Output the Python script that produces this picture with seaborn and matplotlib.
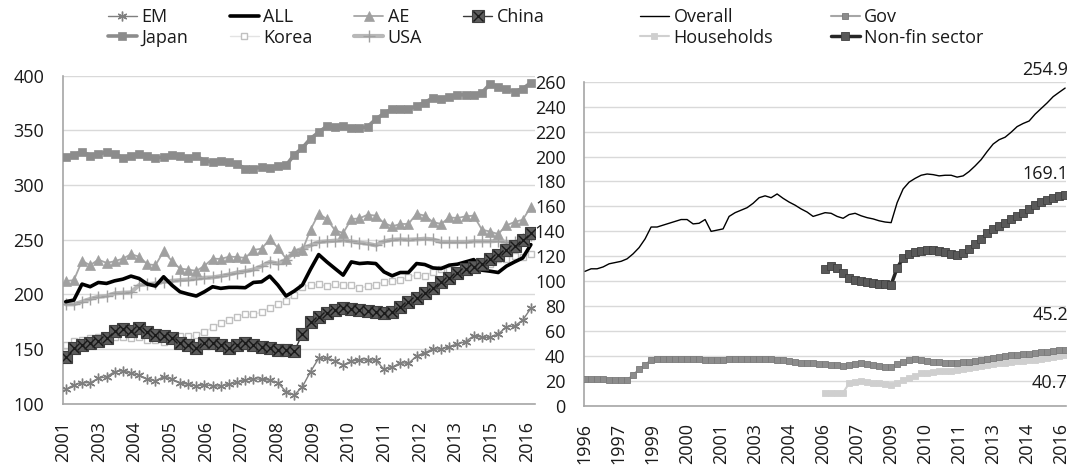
import numpy as np
import matplotlib
matplotlib.use("Agg")
import matplotlib.pyplot as plt
import seaborn as sns
from matplotlib.lines import Line2D
from matplotlib.legend_handler import HandlerTuple

# ---- left panel: quarterly, 2001-2016 ----
left_labels = ['2001', '2003', '2004', '2005', '2006', '2007', '2008', '2009',
               '2010', '2011', '2012', '2013', '2015', '2016']

em = [113.1, 117.1, 119.2, 119.2, 123.2, 124.7, 129.3, 130.2, 127.7, 126.2,
      122.3, 121.0, 124.7, 122.3, 119.2, 117.7, 116.2, 117.4, 116.2, 116.2,
      117.7, 119.5, 121.6, 122.9, 122.3, 121.6, 119.2, 111.0, 107.9, 115.5,
      129.3, 141.5, 141.5, 139.3, 135.4, 139.0, 139.9, 139.9, 139.9, 131.4,
      133.2, 137.5, 136.9, 143.6, 146.6, 150.0, 150.0, 152.1, 154.6, 156.7,
      162.2, 160.7, 160.7, 163.7, 170.4, 171.0, 176.5, 187.2]

all_ = [193.3, 194.8, 209.4, 207.0, 210.9, 210.0, 212.4, 213.9, 216.7, 214.5,
        209.4, 207.6, 216.1, 208.5, 202.4, 200.3, 198.5, 202.4, 207.0, 205.5,
        206.4, 206.4, 206.1, 210.9, 211.5, 216.7, 208.5, 198.5, 203.0, 208.5,
        223.0, 236.4, 229.7, 223.6, 217.6, 229.7, 228.2, 228.8, 228.2, 220.6,
        217.0, 220.0, 220.0, 228.2, 227.3, 224.2, 223.6, 226.7, 227.6, 229.7,
        231.8, 222.1, 221.2, 220.0, 225.8, 229.7, 233.3, 245.5]

ae = [212.1, 213.0, 230.6, 226.7, 231.8, 228.8, 230.3, 232.7, 236.7, 234.5,
      227.6, 226.7, 239.4, 230.6, 223.6, 222.7, 221.5, 226.1, 232.7, 232.4,
      234.5, 234.2, 233.3, 240.6, 241.8, 250.3, 242.7, 232.7, 239.4, 240.3,
      259.2, 273.8, 268.9, 258.6, 256.1, 268.9, 269.5, 272.9, 272.0, 265.3,
      262.2, 264.4, 264.4, 273.8, 272.0, 266.2, 264.4, 270.4, 269.8, 271.4,
      272.0, 259.2, 257.4, 255.2, 263.1, 266.2, 268.3, 279.9]

china = [142.4, 150.9, 153.9, 155.5, 157.0, 160.0, 166.7, 168.2, 166.7, 169.1,
         165.5, 163.0, 161.5, 160.0, 155.5, 153.9, 150.9, 155.5, 155.5, 153.3,
         150.9, 153.9, 155.5, 153.3, 151.8, 150.9, 149.4, 148.8, 147.9, 163.6,
         174.5, 179.7, 183.3, 185.8, 187.3, 186.7, 185.8, 185.2, 184.2, 183.3,
         184.2, 188.8, 192.7, 196.4, 200.9, 206.1, 211.5, 215.2, 219.1, 223.0,
         225.2, 228.2, 232.1, 236.4, 240.3, 244.2, 249.4, 256.4]

japan = [325.8, 327.6, 330.4, 327.0, 328.0, 330.4, 328.8, 324.6, 327.0, 328.0,
         327.0, 324.6, 325.8, 327.6, 326.7, 324.6, 326.4, 322.4, 320.9, 321.8,
         321.2, 319.1, 315.1, 315.1, 316.4, 315.8, 317.0, 317.9, 327.6, 334.0,
         342.5, 348.3, 353.8, 352.9, 354.1, 351.9, 351.9, 353.5, 360.2, 365.6,
         369.6, 369.3, 369.3, 372.3, 375.4, 379.9, 378.7, 380.8, 382.7, 382.4,
         382.7, 384.5, 392.4, 390.0, 387.5, 385.4, 388.1, 393.6]

korea = [153.9, 157.0, 158.5, 160.0, 160.6, 160.6, 160.6, 160.6, 160.0, 160.6,
         158.5, 158.5, 156.4, 158.5, 161.5, 161.5, 162.4, 165.5, 170.0, 173.6,
         176.7, 179.7, 181.8, 181.8, 183.6, 187.9, 191.5, 193.9, 199.4, 207.0,
         208.5, 209.1, 207.6, 209.1, 208.5, 208.5, 205.5, 207.6, 208.5, 211.5,
         212.1, 213.0, 216.1, 217.6, 217.0, 220.6, 223.6, 222.7, 220.6, 223.6,
         225.2, 226.7, 228.2, 232.7, 232.7, 235.2, 234.2, 237.3]

usa = [190.9, 190.9, 193.3, 195.8, 197.9, 198.5, 200.9, 201.5, 201.8, 208.5,
       209.4, 210.0, 211.5, 212.4, 213.0, 213.6, 214.5, 215.2, 215.5, 216.7,
       218.2, 220.0, 221.2, 222.7, 225.8, 229.7, 228.2, 231.8, 238.8, 241.8,
       244.8, 247.9, 248.5, 249.1, 249.4, 248.5, 247.3, 246.4, 244.8, 248.5,
       250.0, 250.3, 250.0, 250.3, 250.9, 250.3, 247.9, 247.9, 247.9, 247.9,
       248.5, 248.5, 248.5, 249.1, 247.9, 247.9, 250.3, 253.9]

# ---- right panel: quarterly, 1996-2016 ----
right_labels = ['1996', '1997', '1999', '2000', '2001', '2003', '2004', '2006',
                '2007', '2009', '2010', '2011', '2013', '2014', '2016']

overall = [108, 110, 110, 111.5, 114, 115, 116, 118, 122, 127, 134,
           143.5, 143.5, 145, 146.5, 148, 149.5, 149.5, 146, 146.5, 149.5,
           140, 141, 142, 152, 155, 157, 159, 162.5, 167, 168.5,
           167, 170, 166.5, 163.5, 161, 158, 155.5, 152, 153.5, 155,
           154.5, 152, 150.5, 153.5, 154.5, 152.5, 151, 150, 148.5, 147.5,
           147, 163, 174, 179.5, 182.5, 185, 186, 185.5, 184.5, 185,
           185, 183.5, 184.5, 188, 192.5, 197.5, 204, 210, 213.5, 215.5,
           219.5, 224, 226.5, 228.5, 234, 238.5, 243, 248, 251.5, 254.9]

gov = [21.4, 21.4, 21.4, 21.4, 21.1, 20.9, 20.6, 20.6, 24.9, 29.4, 32.9,
       36.9, 37.3, 37.4, 37.4, 37.5, 37.5, 37.4, 37.3, 37.3, 37.2,
       37.1, 37.1, 37.2, 37.3, 37.5, 37.6, 37.7, 37.6, 37.6, 37.5,
       37.4, 37.0, 36.5, 35.8, 35.2, 34.8, 34.5, 34.2, 33.8, 33.6,
       33.2, 32.9, 32.3, 33.0, 34.0, 34.2, 33.8, 33.0, 32.3, 31.5,
       31.2, 33.5, 35.5, 37.0, 37.4, 36.9, 36.0, 35.3, 34.9, 34.7,
       34.7, 34.7, 35.0, 35.5, 36.3, 37.0, 38.0, 38.7, 39.3, 40.0,
       40.6, 41.0, 41.5, 41.9, 42.3, 43.0, 43.6, 44.2, 44.7, 45.2]

# households and non-financial sector start in 2006 (quarter 40)
sector_start = 40
households = [10.7, 10.7, 10.7, 10.7, 18.2, 19.5, 20.3, 19.0, 18.2, 18.2,
              17.6, 16.8, 18.2, 20.9, 22.2, 24.1, 26.2, 26.8, 27.3, 27.8,
              28.4, 28.4, 28.9, 29.4, 30.2, 31.0, 32.1, 32.9, 33.7, 34.2,
              34.7, 35.5, 36.1, 36.4, 36.9, 36.9, 37.5, 38.3, 39.1, 40.2, 40.7]

nonfin = [109.8, 112.0, 110.6, 107.0, 102.6, 101.2, 100.2, 99.2, 98.5, 98.0,
          97.5, 97.2, 110.6, 118.6, 121.8, 123.5, 124.5, 125.0, 124.8, 124.2,
          123.3, 121.8, 121.0, 122.6, 126.0, 130.0, 133.8, 138.5, 142.0, 144.5,
          147.0, 150.0, 152.5, 155.0, 158.0, 161.5, 163.5, 165.5, 167.0, 168.2, 169.1]

sns.set_style("white")
plt.rcParams['font.family'] = ['Open Sans', 'DejaVu Sans']
plt.rcParams['text.color'] = '#1a1a1a'

AXIS_GREY = '#a6a6a6'
GRID_GREY = '#d9d9d9'

left_styles = {
    'EM': dict(color='#7f7f7f', lw=1.0, marker=(6, 2, 0), ms=7, mec='#7f7f7f', mew=1.0),
    'ALL': dict(color='black', lw=2.6),
    'AE': dict(color='#a6a6a6', lw=1.3, marker='^', ms=6.5, mfc='#a0a0a0', mec='#a0a0a0', mew=0.5),
    'China': dict(color='#3a3a3a', lw=1.0, marker='s', ms=8, mfc='#5c5c5c', mec='#404040', mew=0.8),
    'Japan': dict(color='#8c8c8c', lw=2.6, marker='s', ms=6, mfc='#8c8c8c', mec='#8c8c8c', mew=0.5),
    'Korea': dict(color='#e3e3e3', lw=1.0, marker='s', ms=5, mfc='white', mec='#c0c0c0', mew=1.0),
    'USA': dict(color='#b8b8b8', lw=3.0, marker='+', ms=8, mec='#a0a0a0', mew=1.0),
}
china_x = dict(color='black', lw=0, marker='x', ms=7, mec='#1a1a1a', mew=1.0)

right_styles = {
    'Overall': dict(color='black', lw=1.0),
    'Gov': dict(color='#a6a6a6', lw=1.5, marker='s', ms=5, mfc='#8c8c8c', mec='#7a7a7a', mew=0.6),
    'Households': dict(color='#d0d0d0', lw=1.5, marker='s', ms=5, mfc='#cfcfcf', mec='#cfcfcf', mew=0.6),
    'Non-fin sector': dict(color='#262626', lw=2.5, marker='s', ms=6, mfc='#595959', mec='#404040', mew=0.6),
}


def draw(ax, x, y, style, z):
    sns.lineplot(x=x, y=y, ax=ax, zorder=z, **style)


def style_axis(ax, ylim, ystep, tick_pos, tick_labels):
    ax.set_ylim(*ylim)
    ax.set_yticks(np.arange(ylim[0], ylim[1] + 1, ystep))
    ax.set_xticks(tick_pos)
    ax.set_xticklabels(tick_labels, rotation=90)
    ax.grid(axis='y', color=GRID_GREY, lw=1.0)
    ax.set_axisbelow(True)
    for s in ['top', 'right']:
        ax.spines[s].set_visible(False)
    for s in ['left', 'bottom']:
        ax.spines[s].set_color(AXIS_GREY)
        ax.spines[s].set_linewidth(1.2)
    ax.tick_params(axis='both', direction='out', length=4.5, width=1.0,
                   color=AXIS_GREY, labelsize=13, labelcolor='#1a1a1a')
    ax.tick_params(axis='y', pad=9)
    ax.tick_params(axis='x', pad=8)
    ax.set_xlabel('')
    ax.set_ylabel('')


fig = plt.figure(figsize=(10.77, 4.69), dpi=100)
axL = fig.add_axes([0.0585, 0.1392, 0.4382, 0.6994])
axR = fig.add_axes([0.5427, 0.1343, 0.4474, 0.6915])

# left panel
xL = np.arange(len(japan))
draw(axL, xL, korea, left_styles['Korea'], 2)
draw(axL, xL, usa, left_styles['USA'], 3)
draw(axL, xL, ae, left_styles['AE'], 4)
draw(axL, xL, em, left_styles['EM'], 5)
draw(axL, xL, all_, left_styles['ALL'], 6)
draw(axL, xL, china, left_styles['China'], 7)
draw(axL, xL, china, china_x, 8)
draw(axL, xL, japan, left_styles['Japan'], 9)
axL.set_xlim(-0.33, 57.5)
style_axis(axL, (100, 400), 50, np.linspace(-0.3, 56.5, len(left_labels)), left_labels)

# right panel
xR = np.arange(len(overall))
xS = xR[sector_start:]
draw(axR, xR, overall, right_styles['Overall'], 5)
draw(axR, xR, gov, right_styles['Gov'], 4)
draw(axR, xS, households, right_styles['Households'], 3)
draw(axR, xS, nonfin, right_styles['Non-fin sector'], 6)
axR.set_xlim(-0.1, 80.2)
style_axis(axR, (0, 260), 20, np.linspace(-0.1, 79.4, len(right_labels)), right_labels)

# end-value labels
for series, xs, dy in [(overall, xR, 13), (nonfin, xS, 15), (gov, xR, 25), (households, xS, -20)]:
    axR.annotate(f"{series[-1]:.1f}", xy=(xs[-1], series[-1]), xytext=(2, dy),
                 textcoords='offset points', ha='right', va='center', fontsize=13,
                 annotation_clip=False)

# legends
def handle(style):
    return Line2D([], [], **style)

left_order = ['EM', 'Japan', 'ALL', 'Korea', 'AE', 'USA', 'China']
left_handles = []
for name in left_order:
    if name == 'China':
        left_handles.append((handle(left_styles['China']), handle(china_x)))
    else:
        left_handles.append(handle(left_styles[name]))
axL.legend(left_handles, left_order, loc='upper left', ncol=4,
           bbox_to_anchor=(108 / 1077, 1 - 8 / 469), bbox_transform=fig.transFigure,
           frameon=False, fontsize=13, borderpad=0, borderaxespad=0,
           handlelength=1.6, handletextpad=0.25, columnspacing=2.3, labelspacing=0.15,
           handler_map={tuple: HandlerTuple(ndivide=1)})

right_order = ['Overall', 'Households', 'Gov', 'Non-fin sector']
axR.legend([handle(right_styles[n]) for n in right_order], right_order,
           loc='upper left', ncol=2,
           bbox_to_anchor=(640 / 1077, 1 - 8 / 469), bbox_transform=fig.transFigure,
           frameon=False, fontsize=13, borderpad=0, borderaxespad=0,
           handlelength=1.6, handletextpad=0.25, columnspacing=3.2, labelspacing=0.15)

fig.savefig('out.png', dpi=100)
